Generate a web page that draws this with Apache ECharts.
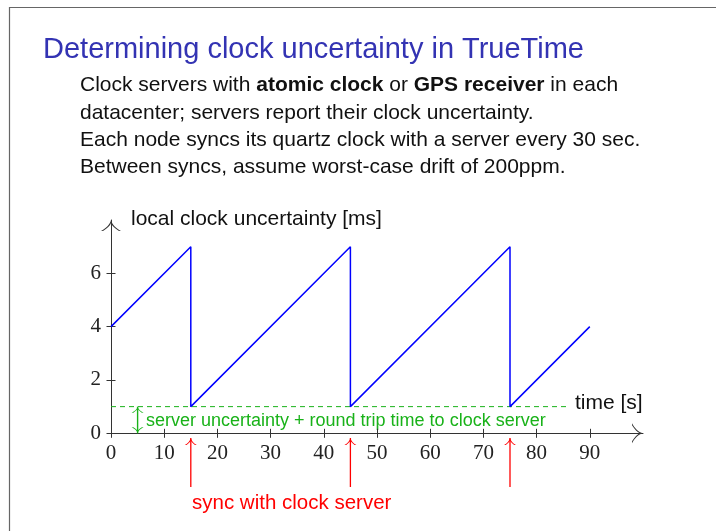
<!DOCTYPE html>
<html>
<head>
<meta charset="utf-8">
<title>TrueTime clock uncertainty</title>
<script src="https://cdn.jsdelivr.net/npm/echarts@6/dist/echarts.min.js"></script>
<style>
  html, body { margin: 0; padding: 0; background: #fff; }
  #chart { width: 716px; height: 531px; }
</style>
</head>
<body>
<div id="chart"></div>
<script>
// sawtooth: drift adds 0.2 ms per second, each sync drops back to the server floor
var times = [0, 15, 15, 45, 45, 75, 75, 90];
var uncertainty = [4, 7, 1, 7, 1, 7, 1, 4];
var syncTimes = [15, 45, 75];
var serverFloor = 1;
var floorEnd = 86;
var floorArrowAt = 5;
var xTicks = [0, 10, 20, 30, 40, 50, 60, 70, 80, 90];
var yTicks = [0, 2, 4, 6];
var xMax = 100;
var yMax = 8;

// open TeX-like arrow tips, pointing up
var chevron = 'path://M100,0 C90,45 50,85 0,110 L20,110 C60,85 94,55 100,30 C106,55 140,85 180,110 L200,110 C150,85 110,45 100,0 Z';
var chevronSmall = 'path://M100,0 C90,45 50,85 0,110 L30,110 C64,85 95,60 100,40 C105,60 136,85 170,110 L200,110 C150,85 110,45 100,0 Z';
var sans = '"Liberation Sans", Arial, sans-serif';
var serif = '"Liberation Serif", "Times New Roman", serif';
var axisColor = '#333';
var green = '#19b219';
var red = '#ff0000';

var chart = echarts.init(document.getElementById('chart'));

var blueLine = times.map(function (t, i) { return [t, uncertainty[i]]; });

var syncSeries = syncTimes.map(function (t) {
    return {
        type: 'line', xAxisIndex: 2, yAxisIndex: 2, clip: false, silent: true,
        lineStyle: {color: red, width: 1.3},
        itemStyle: {color: red},
        symbolSize: [12, 7],
        data: [
            {value: [t, 0], symbol: 'none'},
            {value: [t, 1], symbol: chevronSmall, symbolOffset: [0, 3.5]}
        ]
    };
});

var option = {
    animation: false,
    grid: [
        {left: 111, top: 220, width: 532, height: 213.3},
        {left: 111, top: 438, width: 532, height: 49}
    ],
    xAxis: [
        {
            gridIndex: 0, type: 'value', min: 0, max: xMax, interval: 10,
            axisLine: {
                onZero: false,
                symbol: ['none', chevron], symbolSize: [20, 11], symbolOffset: [0, -5.5],
                lineStyle: {color: axisColor, width: 1}
            },
            axisTick: {customValues: xTicks, length: 4.5, lineStyle: {color: axisColor}},
            axisLabel: {
                customValues: xTicks, margin: 10,
                fontFamily: serif, fontSize: 21, color: '#222'
            },
            splitLine: {show: false}
        },
        {
            // second copy only to draw the upper half of the ticks
            gridIndex: 0, type: 'value', min: 0, max: xMax, interval: 10,
            position: 'top', offset: -213.3,
            axisLine: {show: false, onZero: false},
            axisTick: {customValues: xTicks, length: 4.5, lineStyle: {color: axisColor}},
            axisLabel: {show: false},
            splitLine: {show: false}
        },
        {gridIndex: 1, type: 'value', min: 0, max: xMax, show: false}
    ],
    yAxis: [
        {
            gridIndex: 0, type: 'value', min: 0, max: yMax, interval: 2,
            axisLine: {
                show: true, onZero: false,
                symbol: ['none', chevron], symbolSize: [20, 11], symbolOffset: [0, -5.5],
                lineStyle: {color: axisColor, width: 1}
            },
            axisTick: {show: true, customValues: yTicks, length: 4.5, lineStyle: {color: axisColor}},
            axisLabel: {
                customValues: yTicks, margin: 10,
                fontFamily: serif, fontSize: 21, color: '#222'
            },
            splitLine: {show: false}
        },
        {
            gridIndex: 0, type: 'value', min: 0, max: yMax, interval: 2,
            position: 'right', offset: -532,
            axisLine: {show: false, onZero: false},
            axisTick: {show: true, customValues: yTicks, length: 4.5, lineStyle: {color: axisColor}},
            axisLabel: {show: false},
            splitLine: {show: false}
        },
        {gridIndex: 1, type: 'value', min: 0, max: 1, show: false}
    ],
    series: [
        {
            type: 'line', xAxisIndex: 0, yAxisIndex: 0, z: 4,
            data: blueLine, symbol: 'none',
            lineStyle: {color: '#0000ff', width: 1.5}
        },
        {
            type: 'line', xAxisIndex: 0, yAxisIndex: 0, z: 3, silent: true,
            data: [[0, serverFloor], [floorEnd, serverFloor]], symbol: 'none',
            lineStyle: {color: green, width: 1, type: [5, 4]}
        },
        {
            // double arrow: server uncertainty + round trip
            type: 'line', xAxisIndex: 0, yAxisIndex: 0, z: 3, clip: false, silent: true,
            lineStyle: {color: green, width: 1.4},
            itemStyle: {color: green},
            symbolSize: [12, 6],
            data: [
                {value: [floorArrowAt, 0], symbol: chevronSmall, symbolRotate: 180, symbolOffset: [0, -3]},
                {value: [floorArrowAt, serverFloor], symbol: chevronSmall, symbolOffset: [0, 3]}
            ]
        }
    ].concat(syncSeries),
    graphic: [
        {type: 'rect', shape: {x: 9.5, y: 7.5, width: 800, height: 600}, style: {fill: 'none', stroke: '#666', lineWidth: 1.2}},
        {type: 'text', x: 43, y: 50, style: {text: 'Determining clock uncertainty in TrueTime', font: '29px ' + sans, fill: '#3333b3', verticalAlign: 'middle'}},
        {
            type: 'text', x: 80, y: 85,
            style: {
                text: '{n|Clock servers with }{b|atomic clock}{n| or }{b|GPS receiver}{n| in each}',
                verticalAlign: 'middle', fill: '#111',
                rich: {
                    n: {fontFamily: sans, fontSize: 21, fill: '#111'},
                    b: {fontFamily: sans, fontSize: 21, fontWeight: 'bold', fill: '#111'}
                }
            }
        },
        {type: 'text', x: 80, y: 113, style: {text: 'datacenter; servers report their clock uncertainty.', font: '21px ' + sans, fill: '#111', verticalAlign: 'middle'}},
        {type: 'text', x: 80, y: 140.5, style: {text: 'Each node syncs its quartz clock with a server every 30 sec.', font: '21px ' + sans, fill: '#111', verticalAlign: 'middle'}},
        {type: 'text', x: 80, y: 167, style: {text: 'Between syncs, assume worst-case drift of 200ppm.', font: '21px ' + sans, fill: '#111', verticalAlign: 'middle'}},
        {type: 'text', x: 131, y: 219, style: {text: 'local clock uncertainty [ms]', font: '21px ' + sans, fill: '#111', verticalAlign: 'middle'}},
        {type: 'text', x: 575, y: 403, style: {text: 'time [s]', font: '21px ' + sans, fill: '#111', verticalAlign: 'middle'}},
        {type: 'text', x: 146, y: 421, style: {text: 'server uncertainty + round trip time to clock server', font: '18px ' + sans, fill: green, verticalAlign: 'middle'}},
        {type: 'text', x: 192, y: 503, style: {text: 'sync with clock server', font: '20.5px ' + sans, fill: red, verticalAlign: 'middle'}}
    ]
};

chart.setOption(option);
</script>
</body>
</html>
